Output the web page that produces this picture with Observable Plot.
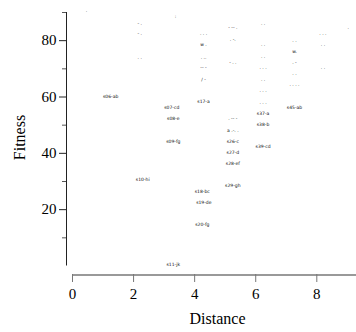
<!DOCTYPE html>
<html><head><meta charset="utf-8">
<script src="https://cdn.jsdelivr.net/npm/d3@7"></script>
<script src="https://cdn.jsdelivr.net/npm/@observablehq/plot@0.6"></script>
<style>body{margin:0;background:#fff}</style>
</head><body><div id="chart"></div>
<script>
const distance = [0.46, 3.37, 2.2, 2.2, 2.2, 1.25, 3.25, 3.3, 3.3, 2.3, 3.3,
  4.29, 4.29, 4.29, 4.29, 4.29, 4.29, 4.25, 4.3, 4.25,
  5.25, 5.25, 5.25, 5.25, 5.25, 5.25, 5.25, 5.25, 5.25,
  6.24, 6.24, 6.24, 6.24, 6.24, 6.24, 6.24, 6.24, 6.24, 6.24,
  7.27, 7.27, 7.27, 7.27, 7.27, 7.27,
  8.2, 8.2, 8.2, 9.03];
const fitness = [90.8, 88.7, 86.0, 82.6, 74.0, 60.2, 56.2, 52.4, 44.3, 30.6, 0.5,
  82.6, 78.6, 74.0, 70.4, 66.2, 58.5, 26.5, 22.7, 14.6,
  84.5, 80.5, 72.4, 52.4, 48.2, 44.3, 40.4, 36.4, 28.6,
  86.2, 78.6, 74.2, 70.4, 66.1, 62.3, 58.2, 54.3, 50.2, 42.4,
  80.1, 76.3, 72.4, 68.5, 64.5, 56.2,
  82.5, 78.6, 70.3, 84.5];
const labels = [".", ":", "- .", "- .", ". .", "s06-ab", "s07-cd", "s08-e", "s09-fg", "s10-hi", "s11-jk",
  ". . .", "w .", ". ..", "-- -", "/ -", "s17-a",
  "s18-bc", "s19-de", "s20-fg",
  "- -- .", ". -.", "- . .", ". -- -", "a .-. .", "s26-c", "s27-d", "s28-ef", "s29-gh",
  ". .", ". .", ". .", ". . .", ". .", ". . .", ". . .", "s37-a", "s38-b", "s39-cd",
  ". .", "w.", ". -", ". .", ". . . .", "s45-ab",
  ". . .", ". .", ". .", "."];
const xTicks = [0, 2, 4, 6, 8];
const yTicks = [20, 40, 60, 80];
const yMinor = [10, 30, 50, 70, 90];
const data = distance.map((d, i) => ({distance: d, fitness: fitness[i], label: labels[i]}));

const chart = Plot.plot({
  width: 356, height: 332,
  marginLeft: 66, marginRight: 0, marginTop: 12, marginBottom: 58,
  style: {fontFamily: "'Liberation Serif', 'Times New Roman', serif", background: "#fff", color: "#000"},
  x: {domain: [0, 9.3], range: [72, 356]},
  y: {domain: [0, 90], range: [265.5, 12]},
  marks: [
    Plot.ruleX([0], {y1: 0, y2: 90, dx: -6, stroke: "#222"}),
    Plot.ruleY([0], {x1: 0, x2: 9.3, dy: 9, stroke: "#777", strokeWidth: 1.3}),
    Plot.axisY(yTicks, {tickSize: 7, tickPadding: 3, fontSize: 15, label: null, stroke: "#222"}),
    Plot.axisY(yMinor, {tickSize: 4, tickFormat: () => "", label: null, stroke: "#555"}),
    Plot.axisX(xTicks, {tickSize: 8, tickPadding: 6, fontSize: 15, label: null, stroke: "#777"}),
    Plot.text(data, {x: "distance", y: "fitness", text: "label", fontSize: 4.5, fill: "#111", fontFamily: "DejaVu Sans"}),
    Plot.text(["Distance"], {frameAnchor: "bottom", dx: 6, dy: 49, fontSize: 16}),
    Plot.text(["Fitness"], {frameAnchor: "left", textAnchor: "middle", rotate: -90, dx: -47, dy: -6, fontSize: 16})
  ]
});
document.getElementById("chart").appendChild(chart);
</script>
</body></html>
